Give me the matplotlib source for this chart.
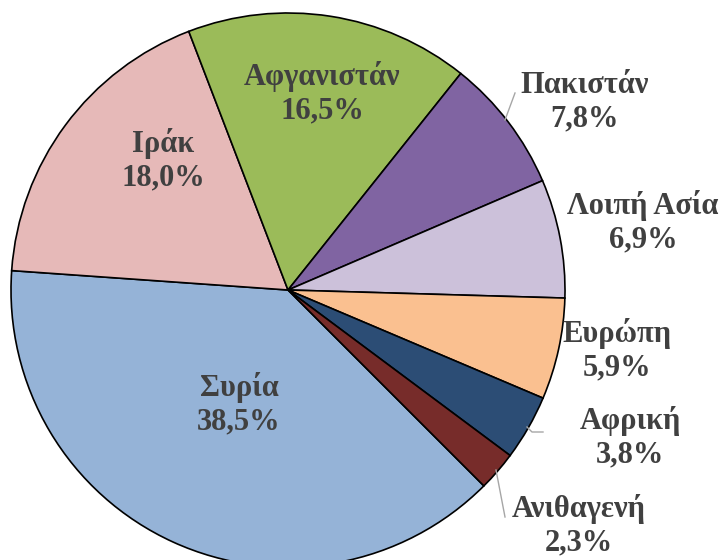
import matplotlib
matplotlib.use("Agg")
import matplotlib.pyplot as plt

categories = ["Συρία", "Ιράκ", "Αφγανιστάν", "Πακιστάν", "Λοιπή Ασία",
              "Ευρώπη", "Αφρική", "Ανιθαγενή"]
values = [38.5, 18.0, 16.5, 7.8, 6.9, 5.9, 3.8, 2.3]
value_labels = ["38,5%", "18,0%", "16,5%", "7,8%", "6,9%", "5,9%", "3,8%", "2,3%"]
colors = ["#95B3D7", "#E6B9B8", "#9BBB59", "#8064A2", "#CCC1DA",
          "#FAC090", "#2C4D75", "#772C2A"]

# label centres in pixel coordinates (x from left, y from top)
label_px = [(239, 404), (163, 160), (322, 93), (585, 102), (643, 222),
            (617, 350), (630, 438), (579, 526)]

W, H = 725, 560
cx, cy, R = 288, 290, 277

def px2d(x, y):
    return (x - cx) / R, (cy - y) / R

fig = plt.figure(figsize=(W / 100, H / 100), dpi=100)
ax = fig.add_axes([0, 0, 1, 1])
ax.pie(values, colors=colors, startangle=-45, counterclock=False,
       wedgeprops=dict(edgecolor="black", linewidth=1.2))
ax.set_xlim(-cx / R, (W - cx) / R)
ax.set_ylim(-(H - cy) / R, cy / R)
ax.set_aspect("auto")
ax.axis("off")

for cat, lab, (px, py) in zip(categories, value_labels, label_px):
    x, y = px2d(px, py)
    ax.text(x, y, f"{cat}\n{lab}", ha="center", va="center",
            fontsize=22, fontweight="bold", family="Liberation Serif",
            color="#404040", linespacing=1.2)

# leader lines
leaders = [
    [(505, 120), (515, 93)],
    [(527, 427), (532, 432), (543, 432)],
    [(496, 470), (505, 517)],
]
for pts in leaders:
    xs, ys = zip(*[px2d(a, b) for a, b in pts])
    ax.plot(xs, ys, color="#A6A6A6", linewidth=1.0)

fig.savefig("out.png", dpi=100)
